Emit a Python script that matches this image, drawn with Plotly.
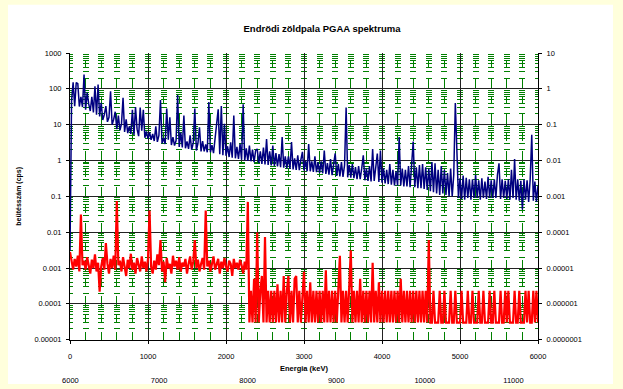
import plotly.graph_objects as go

# Energy grid of the spectrum (keV), one channel every 20 keV
energy_kev = list(range(0, 6001, 20))

# Sample spectrum, count rate (cps)
cps_sample = [
    0.003, 45, 152, 33, 150, 140, 32, 60, 31, 250,
    26, 78, 38, 24, 60, 22, 118, 19, 132, 17,
    41, 13.5, 19, 33, 12, 16, 86, 10, 14, 23,
    7.5, 18, 7, 10.5, 56, 6.3, 14, 5.8, 9, 5.5,
    26, 5.2, 31, 7.5, 4.8, 30, 6.8, 26, 4.3, 6.5,
    4.0, 6.2, 3.8, 5.5, 3.5, 9, 3.3, 5, 49, 3.0,
    4.2, 2.9, 28, 3.8, 16, 2.7, 4.5, 2.6, 3.6, 67,
    2.4, 6, 2.3, 18, 2.2, 3.4, 2.1, 5, 2.0, 3.1,
    28, 1.9, 3.0, 8.5, 1.8, 3.5, 1.8, 2.8, 1.7, 43,
    1.7, 2.7, 1.6, 4, 9.4, 27, 1.5, 33, 1.4, 10.5,
    1.35, 2.5, 1.25, 3.2, 1.2, 18, 1.15, 2.4, 1.1, 2.9,
    1.05, 37, 1.0, 2.2, 0.98, 2.6, 0.95, 2.0, 0.9, 1.9,
    2.1, 0.85, 1.8, 0.8, 2.3, 0.78, 4, 0.75, 1.8, 0.73,
    2.6, 0.7, 1.6, 0.68, 1.5, 0.65, 4.5, 0.63, 1.3, 0.6,
    1.3, 0.58, 3.3, 0.56, 1.15, 0.55, 1.4, 0.54, 1.05, 1.75,
    0.53, 1.0, 0.5, 2.9, 0.5, 0.95, 0.48, 1.3, 0.47, 0.9,
    0.45, 0.95, 0.44, 1.9, 0.42, 0.85, 0.4, 1.1, 0.39, 0.85,
    1.57, 0.37, 0.8, 0.36, 0.9, 0.35, 0.75, 30, 0.34, 0.75,
    0.33, 0.8, 0.32, 0.65, 0.3, 0.7, 0.3, 0.6, 1.4, 0.28,
    0.6, 0.27, 0.7, 0.26, 2.1, 0.27, 0.6, 1.57, 0.25, 1.9,
    0.24, 0.6, 0.23, 0.55, 0.22, 0.8, 0.21, 0.55, 0.2, 0.5,
    0.2, 4.5, 0.2, 0.6, 0.19, 0.55, 0.19, 0.7, 0.18, 0.6,
    3.4, 0.18, 0.65, 0.17, 0.75, 0.17, 0.8, 0.16, 0.65, 0.15,
    0.6, 0.14, 0.9, 0.13, 0.83, 0.12, 0.55, 0.11, 0.7, 0.12,
    0.55, 0.11, 0.45, 0.1, 0.6, 0.1, 0.4, 40, 0.93, 0.09,
    0.32, 0.085, 0.38, 0.08, 0.33, 0.09, 0.3, 0.08, 0.3, 0.09,
    0.4, 0.09, 0.28, 0.08, 0.32, 0.09, 0.26, 0.085, 0.35, 0.09,
    0.28, 0.09, 0.3, 0.09, 0.4, 0.83, 0.085, 0.3, 0.09, 0.27,
    0.085, 0.3, 0.08, 0.55, 0.09, 1.1, 0.08, 0.3, 0.075, 0.27,
    0.043, 0.3, 0.08, 0.28, 0.07, 0.3, 5.2, 0.075, 0.26, 0.07,
    0.2,
]

# Second spectrum (lower trace), count rate (cps)
cps_second = [
    0.0028, 0.0015, 0.0009, 0.0018, 0.0011, 0.0022, 0.0008, 0.031, 0.0012, 0.0016,
    0.0009, 0.002, 0.0013, 0.0007, 0.0017, 0.001, 0.0024, 0.0008, 0.0014, 0.00022,
    0.0011, 0.0019, 0.0009, 0.005, 0.0013, 0.0007, 0.0018, 0.001, 0.0022, 0.0009,
    0.074, 0.0012, 0.0016, 0.0008, 0.002, 0.0011, 0.0006, 0.0017, 0.001, 0.0025,
    0.0009, 0.0014, 0.0007, 0.0019, 0.0012, 0.0008, 0.0021, 0.001, 0.0015, 0.0008,
    0.0018, 0.04, 0.0011, 0.0007, 0.0016, 0.0009, 0.0024, 0.0012, 0.006, 0.0008,
    0.0015, 0.0004, 0.0019, 0.001, 0.0013, 0.0007, 0.0022, 0.0011, 0.0016, 0.0009,
    0.002, 0.0008, 0.0014, 0.0011, 0.0018, 0.0007, 0.0013, 0.0021, 0.0009, 0.0015,
    0.006, 0.001, 0.0017, 0.0008, 0.0013, 0.0019, 0.0009, 0.04, 0.0011, 0.0016,
    0.0008, 0.0014, 0.0021, 0.0009, 0.0012, 0.0018, 0.0007, 0.0015, 0.001, 0.0019,
    0.0011, 0.0008, 0.0016, 0.0013, 0.0006, 0.0018, 0.001, 0.0014, 0.0009, 0.0017,
    0.0012, 0.0007, 0.0015, 0.0009, 0.07, 0.00003, 0.00023, 0.00003, 0.0005, 0.00003,
    0.0098, 0.00003, 0.00023, 0.0006, 0.00003, 0.0073, 0.00003, 0.00023, 0.00003, 0.00023,
    0.00003, 0.00023, 0.00003, 0.00035, 0.00003, 0.00023, 0.00003, 0.0006, 0.00003, 0.00023,
    0.0006, 0.00003, 0.00023, 0.00003, 0.0005, 0.0006, 0.00003, 0.00023, 0.00003, 0.00023,
    0.00079, 0.00003, 0.00023, 0.00003, 0.0004, 0.00003, 0.00023, 0.00003, 0.00023, 0.00003,
    0.00023, 0.00003, 0.00023, 0.00003, 0.00087, 0.00003, 0.00023, 0.00003, 0.00023, 0.00003,
    0.00023, 0.00003, 0.00023, 0.0022, 0.00003, 0.00023, 0.00003, 0.00023, 0.00003, 0.00023,
    0.0031, 0.00003, 0.00023, 0.00003, 0.00023, 0.00003, 0.0005, 0.00003, 0.00023, 0.00003,
    0.00023, 0.00003, 0.00023, 0.00003, 0.0014, 0.00003, 0.00023, 0.00003, 0.0004, 0.00003,
    0.00023, 0.00003, 0.00023, 0.00003, 0.00023, 0.00003, 0.00023, 0.00003, 0.00023, 0.00003,
    0.00023, 0.00003, 0.0005, 0.00003, 0.00023, 0.00003, 0.00023, 0.00003, 0.00023, 0.00003,
    0.00023, 0.00003, 0.00023, 0.00003, 0.00023, 0.00003, 0.00023, 0.00003, 0.00023, 0.00003,
    0.006, 0.00003, 0.00003, 0.00023, 0.00003, 0.00003, 0.00003, 0.00023, 0.00003, 0.00003,
    0.00023, 0.00003, 0.00003, 0.00003, 0.00023, 0.00003, 0.00003, 0.00023, 0.00003, 0.00003,
    0.00003, 0.00023, 0.00003, 0.00003, 0.00003, 0.00023, 0.00003, 0.00003, 0.00023, 0.00003,
    0.00003, 0.00003, 0.00023, 0.00003, 0.00003, 0.00023, 0.00003, 0.00003, 0.00003, 0.00023,
    0.00003, 0.00003, 0.00023, 0.00003, 0.00003, 0.00003, 0.00023, 0.00003, 0.00003, 0.00023,
    0.00003, 0.00023, 0.00003, 0.00003, 0.00003, 0.00023, 0.00003, 0.00003, 0.00023, 0.00003,
    0.00003, 0.00003, 0.00023, 0.00003, 0.00023, 0.00003, 0.00003, 0.00023, 0.00003, 0.00023,
    0.00003,
]

# Tick values and labels
x_ticks = [0, 1000, 2000, 3000, 4000, 5000, 6000]
x2_ticks = [6000, 7000, 8000, 9000, 10000, 11000]
x2_range = [5995, 11277]
y_left_ticks = [1e-5, 1e-4, 1e-3, 1e-2, 1e-1, 1, 10, 100, 1000]
y_left_text = ["0.00001", "0.0001", "0.001", "0.01", "0.1", "1", "10", "100", "1000"]
y_right_ticks = [1e-7, 1e-6, 1e-5, 1e-4, 1e-3, 1e-2, 1e-1, 1, 10]
y_right_text = ["0.0000001", "0.000001", "0.00001", "0.0001", "0.001", "0.01", "0.1", "1", "10"]

y_minor = [m * 10.0 ** e for e in range(-5, 3) for m in range(2, 10)]

FONT = "Liberation Sans"
GREEN = "#008000"

fig = go.Figure()
fig.add_trace(go.Scatter(x=energy_kev, y=cps_sample, mode="lines",
                         line=dict(color="#000080", width=1.5), showlegend=False))
fig.add_trace(go.Scatter(x=energy_kev, y=cps_second, mode="lines",
                         line=dict(color="#FF0000", width=2.2), showlegend=False))
# empty traces so the secondary scales are drawn
fig.add_trace(go.Scatter(x=[], y=[], xaxis="x", yaxis="y2", showlegend=False, hoverinfo="skip"))
fig.add_trace(go.Scatter(x=[], y=[], xaxis="x2", yaxis="y", showlegend=False, hoverinfo="skip"))

W, H = 623, 389
ML, MR, MT, MB = 60, 75, 53, 0
pw = W - ML - MR
ph = H - MT - MB


def px_x(p):
    return (p - ML) / pw


def px_y(p):
    return (H - MB - p) / ph


fig.update_layout(
    width=W, height=H,
    margin=dict(l=ML, r=MR, t=MT, b=MB, pad=0),
    paper_bgcolor="#FFFFDC",
    plot_bgcolor="white",
    font=dict(family=FONT, size=7.5, color="black"),
    title=dict(text="<b>Endrödi zöldpala PGAA spektruma</b>",
               x=322 / W, xref="container", xanchor="center",
               y=1 - 29 / H, yref="container", yanchor="middle",
               font=dict(family=FONT, size=9.5, color="black")),
    shapes=[dict(type="rect", xref="paper", yref="paper", layer="below",
                 x0=px_x(8), x1=px_x(613), y0=px_y(389), y1=px_y(4),
                 fillcolor="white", line=dict(width=0))],
    xaxis=dict(
        domain=[px_x(70), px_x(538)],
        range=[0, 6000], tickvals=x_ticks, ticktext=[str(v) for v in x_ticks],
        showline=True, linecolor="black", linewidth=1,
        ticks="outside", ticklen=3, tickcolor="black", ticklabelstandoff=6,
        showgrid=True, gridcolor="#222222", gridwidth=1, zeroline=False,
        minor=dict(dtick=200, showgrid=True, gridcolor=GREEN, gridwidth=1,
                   griddash="0px,7px,8px,10px,11.3px,0px", ticks=""),
        title=dict(text="<b>Energia (keV)</b>", standoff=6,
                   font=dict(family=FONT, size=7.5)),
        anchor="y",
    ),
    xaxis2=dict(
        range=x2_range,
        tickvals=x2_ticks, ticktext=[str(v) for v in x2_ticks],
        overlaying="x", anchor="free", position=px_y(379), side="bottom",
        showline=False, ticks="", showgrid=False, zeroline=False,
    ),
    yaxis=dict(
        domain=[px_y(344), 1],
        type="log", range=[-5, 3], tickvals=y_left_ticks, ticktext=y_left_text,
        showline=True, linecolor="black", linewidth=1,
        ticks="outside", ticklen=3, tickcolor="black", ticklabelstandoff=3,
        showgrid=True, gridcolor="#222222", gridwidth=1, zeroline=False,
        minor=dict(tickvals=y_minor, showgrid=True, gridcolor=GREEN, gridwidth=1,
                   griddash="3px,9.6px,3px,0px", ticks=""),
        title=dict(text="<b>beütésszám (cps)</b>", standoff=11,
                   font=dict(family=FONT, size=7)),
        anchor="x",
    ),
    yaxis2=dict(
        domain=[px_y(344), 1],
        type="log", range=[-7, 1], tickvals=y_right_ticks, ticktext=y_right_text,
        overlaying="y", side="right", anchor="x",
        showline=True, linecolor="black", linewidth=1,
        ticks="outside", ticklen=3, tickcolor="black", ticklabelstandoff=3,
        showgrid=False, zeroline=False,
    ),
)

fig.write_html("out.html")
